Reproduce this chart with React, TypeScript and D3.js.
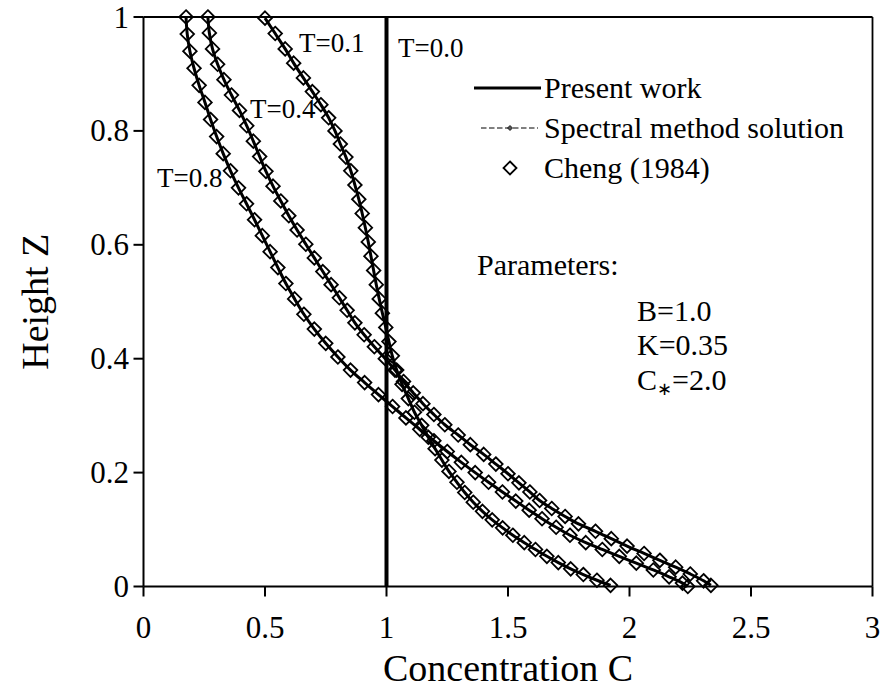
import React from "react";
import * as d3 from "d3";

const W = 883;
const H = 692;

const xTicks = [0, 0.5, 1, 1.5, 2, 2.5, 3];
const yTicks = [0, 0.2, 0.4, 0.6, 0.8, 1];
const xTickLabels = ["0", "0.5", "1", "1.5", "2", "2.5", "3"];
const yTickLabels = ["0", "0.2", "0.4", "0.6", "0.8", "1"];

// [Height Z, Concentration C]
const profileT00: [number, number][] = [
  [0, 1],
  [1, 1],
];

const profileT01: [number, number][] = [
  [0.998, 0.5], [0.971, 0.542], [0.944, 0.583], [0.919, 0.618], [0.893, 0.658],
  [0.869, 0.695], [0.846, 0.73], [0.823, 0.762], [0.8, 0.788], [0.777, 0.81],
  [0.754, 0.833], [0.73, 0.853], [0.705, 0.87], [0.68, 0.886], [0.655, 0.9],
  [0.63, 0.913], [0.605, 0.925], [0.58, 0.936], [0.555, 0.947], [0.53, 0.958],
  [0.505, 0.97], [0.48, 0.983], [0.455, 0.997], [0.43, 1.01], [0.405, 1.024],
  [0.38, 1.042], [0.355, 1.064], [0.33, 1.09], [0.306, 1.115], [0.283, 1.145],
  [0.262, 1.172], [0.242, 1.2], [0.222, 1.228], [0.202, 1.257], [0.183, 1.29],
  [0.165, 1.322], [0.148, 1.357], [0.132, 1.395], [0.117, 1.435], [0.103, 1.478],
  [0.09, 1.52], [0.077, 1.567], [0.065, 1.613], [0.053, 1.66], [0.042, 1.707],
  [0.031, 1.758], [0.021, 1.81], [0.011, 1.866], [0.002, 1.922],
];

const profileT04: [number, number][] = [
  [1.0, 0.265], [0.972, 0.271], [0.944, 0.284], [0.917, 0.305], [0.89, 0.331],
  [0.863, 0.362], [0.836, 0.395], [0.809, 0.425], [0.782, 0.452], [0.755, 0.478],
  [0.729, 0.504], [0.703, 0.533], [0.677, 0.565], [0.651, 0.598], [0.626, 0.632],
  [0.601, 0.668], [0.577, 0.703], [0.553, 0.738], [0.53, 0.772], [0.507, 0.806],
  [0.485, 0.838], [0.463, 0.87], [0.442, 0.908], [0.421, 0.95], [0.4, 0.995],
  [0.38, 1.035], [0.36, 1.07], [0.34, 1.11], [0.321, 1.15], [0.302, 1.195],
  [0.284, 1.24], [0.266, 1.295], [0.249, 1.345], [0.232, 1.4], [0.215, 1.45],
  [0.198, 1.5], [0.182, 1.545], [0.166, 1.59], [0.151, 1.63], [0.137, 1.68],
  [0.123, 1.735], [0.11, 1.79], [0.097, 1.86], [0.084, 1.925], [0.071, 1.99],
  [0.058, 2.06], [0.046, 2.125], [0.034, 2.19], [0.022, 2.25], [0.01, 2.305],
  [0.002, 2.335],
];

const profileT08: [number, number][] = [
  [1.0, 0.175], [0.97, 0.18], [0.94, 0.191], [0.91, 0.208], [0.88, 0.229],
  [0.85, 0.253], [0.82, 0.276], [0.79, 0.301], [0.76, 0.328], [0.73, 0.358],
  [0.7, 0.391], [0.672, 0.424], [0.644, 0.457], [0.616, 0.489], [0.588, 0.521],
  [0.56, 0.553], [0.532, 0.586], [0.505, 0.622], [0.478, 0.66], [0.452, 0.703],
  [0.427, 0.75], [0.403, 0.8], [0.38, 0.852], [0.358, 0.91], [0.337, 0.967],
  [0.316, 1.025], [0.296, 1.08], [0.276, 1.137], [0.256, 1.195], [0.237, 1.25],
  [0.218, 1.308], [0.2, 1.365], [0.183, 1.42], [0.166, 1.477], [0.15, 1.532],
  [0.134, 1.587], [0.119, 1.64], [0.104, 1.698], [0.09, 1.755], [0.077, 1.82],
  [0.065, 1.888], [0.053, 1.958], [0.041, 2.028], [0.029, 2.098], [0.017, 2.163],
  [0.006, 2.218], [0.0, 2.24],
];

const curves = [profileT01, profileT04, profileT08];
const legendLabels = ["Present work", "Spectral method solution", "Cheng (1984)"];
const parameterLabels = ["B=1.0", "K=0.35"];

const FONT = { fontFamily: "'Liberation Serif'" };

function diamond(r: number) {
  return `M0,${-r}L${r},0L0,${r}L${-r},0Z`;
}

export default function App() {
  const x = d3.scaleLinear().domain([0, 3]).range([143.5, 872.5]);
  const y = d3.scaleLinear().domain([0, 1]).range([586.5, 17]);

  const line = d3
    .line<[number, number]>()
    .x((d) => x(d[1]))
    .y((d) => y(d[0]))
    .curve(d3.curveCatmullRom.alpha(0.5));

  const straight = d3
    .line<[number, number]>()
    .x((d) => x(d[1]))
    .y((d) => y(d[0]));

  const x0 = x(0);
  const x1 = x(3);
  const y0 = y(0);
  const y1 = y(1);

  return (
    <div style={{ position: "absolute", left: 0, top: 0 }}>
      <svg width={W} height={H} style={{ display: "block", background: "#fff" }}>
        {/* frame */}
        <line x1={x0} y1={y1} x2={x1} y2={y1} stroke="#000" strokeWidth={1.8} />
        <line x1={x1} y1={y1} x2={x1} y2={y0} stroke="#000" strokeWidth={1.8} />
        <line x1={x0} y1={y1} x2={x0} y2={y0} stroke="#000" strokeWidth={2} />
        <line x1={x0} y1={y0} x2={x1} y2={y0} stroke="#000" strokeWidth={2} />

        {/* ticks */}
        {xTicks.map((t, i) => (
          <g key={"xt" + i}>
            <line x1={x(t)} y1={y0} x2={x(t)} y2={y0 + 10} stroke="#000" strokeWidth={2} />
            <text x={x(t)} y={638} textAnchor="middle" fontSize={31} style={FONT}>
              {xTickLabels[i]}
            </text>
          </g>
        ))}
        {yTicks.map((t, i) => (
          <g key={"yt" + i}>
            <line x1={x0 - 10} y1={y(t)} x2={x0} y2={y(t)} stroke="#000" strokeWidth={2} />
            <text x={129} y={y(t)} dy="0.34em" textAnchor="end" fontSize={31} style={FONT}>
              {yTickLabels[i]}
            </text>
          </g>
        ))}

        {/* axis titles */}
        <text x={(x0 + x1) / 2} y={681} textAnchor="middle" fontSize={38} style={FONT}>
          Concentration C
        </text>
        <text
          transform={`translate(48,${(y0 + y1) / 2}) rotate(-90)`}
          textAnchor="middle"
          fontSize={38}
          style={FONT}
        >
          Height Z
        </text>

        {/* Cheng (1984) markers */}
        {curves.map((c, ci) =>
          c.map((d, i) => (
            <path
              key={`m${ci}-${i}`}
              d={diamond(6.8)}
              transform={`translate(${x(d[1])},${y(d[0])})`}
              fill="none"
              stroke="#000"
              strokeWidth={1.8}
            />
          ))
        )}

        {/* Spectral method solution */}
        {curves.map((c, ci) => (
          <path
            key={"s" + ci}
            d={line(c) || ""}
            fill="none"
            stroke="#000"
            strokeWidth={1}
            strokeDasharray="5,3"
          />
        ))}

        {/* Present work */}
        {curves.map((c, ci) => (
          <path key={"p" + ci} d={line(c) || ""} fill="none" stroke="#000" strokeWidth={3} />
        ))}
        <path d={straight(profileT00) || ""} fill="none" stroke="#000" strokeWidth={4} />

        {/* curve labels */}
        <text x={299} y={52} fontSize={27} style={FONT}>T=0.1</text>
        <text x={398} y={57} fontSize={27} style={FONT}>T=0.0</text>
        <text x={250} y={118} fontSize={27} style={FONT}>T=0.4</text>
        <text x={157} y={187} fontSize={27} style={FONT}>T=0.8</text>

        {/* legend */}
        <line x1={474} y1={88} x2={541} y2={88} stroke="#000" strokeWidth={3} />
        <text x={544} y={98} fontSize={30} style={FONT}>{legendLabels[0]}</text>

        <line x1={481} y1={128} x2={538} y2={128} stroke="#000" strokeWidth={1} strokeDasharray="5.5,2.5" />
        <path d={diamond(2.5)} transform="translate(510,128)" fill="#555" stroke="#000" strokeWidth={0.8} />
        <text x={544} y={138} fontSize={30} style={FONT}>{legendLabels[1]}</text>

        <path d={diamond(6.5)} transform="translate(510,168)" fill="#fff" stroke="#000" strokeWidth={1.8} />
        <text x={544} y={178} fontSize={30} style={FONT}>{legendLabels[2]}</text>

        {/* parameters */}
        <text x={477} y={275} fontSize={30} style={FONT}>Parameters:</text>
        <text x={637} y={321} fontSize={30} style={FONT}>{parameterLabels[0]}</text>
        <text x={637} y={355} fontSize={30} style={FONT}>{parameterLabels[1]}</text>
        <text x={637} y={390} fontSize={30} style={FONT}>
          <tspan>C</tspan>
          <tspan fontSize={18} dy={5}>∗</tspan>
          <tspan dy={-5}>=2.0</tspan>
        </text>
      </svg>
    </div>
  );
}
